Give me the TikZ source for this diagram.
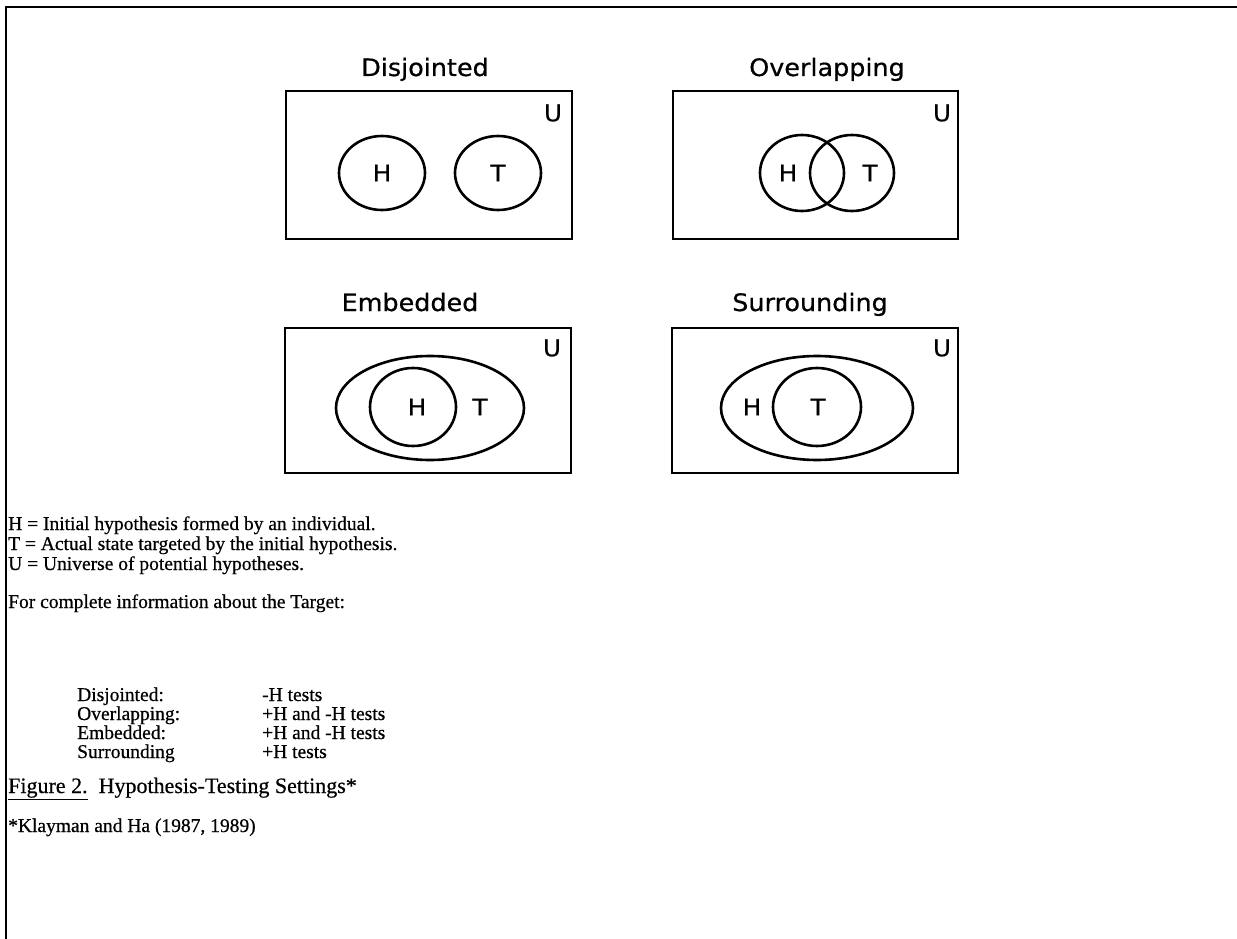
\documentclass[tikz,border=0pt]{standalone}
\usepackage{fontspec}
\setmainfont[FakeBold=0.6]{Liberation Serif}
\newfontfamily\labfont[FakeStretch=1.06,FakeBold=0.6]{DejaVu Sans}
\usetikzlibrary{shapes.geometric}
\begin{document}
\begin{tikzpicture}[x=1pt,y=-1pt,
  frameline/.style={line width=1.8pt},
  ubox/.style={draw, line width=2.6pt, inner sep=0pt},
  setshape/.style={draw, ellipse, line width=2.6pt, inner sep=0pt},
  ttl/.style={font=\labfont\fontsize{24}{28}\selectfont, inner sep=0pt, anchor=base},
  lbl/.style={font=\labfont\fontsize{23}{27}\selectfont, inner sep=0pt},
  body/.style={font=\fontsize{19.5}{22}\selectfont, anchor=base west, inner sep=0pt},
  fig/.style={font=\fontsize{22}{26}\selectfont, anchor=base west, inner sep=0pt}]
\useasboundingbox (0,0) rectangle (1237,939);
% frame
\coordinate (fa) at (5,7);
\coordinate (fb) at (1237,7);
\coordinate (fc) at (6,939);
\draw[frameline] (fa) -- (fb);
\draw[frameline] (6,7) -- (fc);

% Disjointed
\node[ttl] (t1) at (425,76) {Disjointed};
\node[ubox, minimum width=286pt, minimum height=148pt] (b1) at (429,165) {};
\node[lbl] (u1) at (553,113) {U};
\node[setshape, minimum width=86pt, minimum height=74pt] (h1) at (382,173) {};
\node[lbl] (h1l) at (382,173) {H};
\node[setshape, minimum width=86pt, minimum height=74pt] (c1) at (498,173) {};
\node[lbl] (c1l) at (498,173) {T};

% Overlapping
\node[ttl] (t2) at (827,76) {Overlapping};
\node[ubox, minimum width=285pt, minimum height=148pt] (b2) at (815.5,165) {};
\node[lbl] (u2) at (942,113) {U};
\node[setshape, minimum width=84pt, minimum height=76pt] (h2) at (802,173) {};
\node[lbl] (h2l) at (788,173) {H};
\node[setshape, minimum width=84pt, minimum height=76pt] (c2) at (852,173) {};
\node[lbl] (c2l) at (870,173) {T};

% Embedded
\node[ttl] (t3) at (410,311) {Embedded};
\node[ubox, minimum width=286pt, minimum height=145pt] (b3) at (428,400.5) {};
\node[lbl] (u3) at (552,348) {U};
\node[setshape, minimum width=188pt, minimum height=104pt] (c3) at (430,408) {};
\node[setshape, minimum width=86pt, minimum height=78pt] (h3) at (413,407) {};
\node[lbl] (h3l) at (417,407) {H};
\node[lbl] (c3l) at (480,407) {T};

% Surrounding
\node[ttl] (t4) at (810,311) {Surrounding};
\node[ubox, minimum width=286pt, minimum height=145pt] (b4) at (815,400.5) {};
\node[lbl] (u4) at (942,348) {U};
\node[setshape, minimum width=192pt, minimum height=104pt] (h4) at (817,408) {};
\node[setshape, minimum width=88pt, minimum height=78pt] (c4) at (817,407) {};
\node[lbl] (h4l) at (752,407) {H};
\node[lbl] (c4l) at (818,407) {T};

% legend
\node[body] (l1) at (8,530) {H = Initial hypothesis formed by an individual.};
\node[body] (l2) at (8,550) {T = Actual state targeted by the initial hypothesis.};
\node[body] (l3) at (8,570) {U = Universe of potential hypotheses.};
\node[body] (l4) at (8,608) {For complete information about the Target:};

\node[body] (k1) at (77,701) {Disjointed:};
\node[body] (k2) at (77,720) {Overlapping:};
\node[body] (k3) at (77,739) {Embedded:};
\node[body] (k4) at (77,758) {Surrounding};
\node[body] (v1) at (262,701) {-H tests};
\node[body] (v2) at (262,720) {+H and -H tests};
\node[body] (v3) at (262,739) {+H and -H tests};
\node[body] (v4) at (262,758) {+H tests};

\node[fig] (cap) at (8,793) {\underline{Figure 2.}\ \ Hypothesis-Testing Settings*};
\node[body] (ref) at (8,832) {*Klayman and Ha (1987, 1989)};
\end{tikzpicture}
\end{document}
